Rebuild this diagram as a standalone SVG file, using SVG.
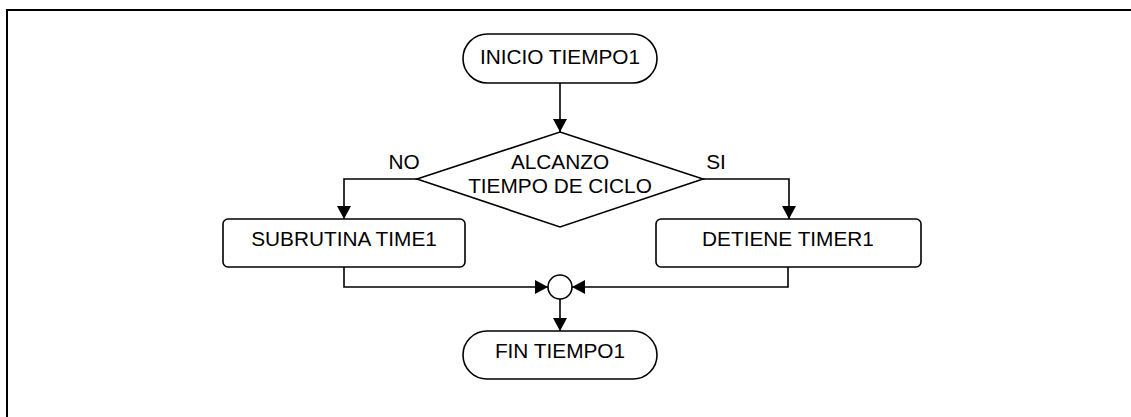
<svg xmlns="http://www.w3.org/2000/svg" width="1131" height="417" viewBox="0 0 1131 417">
  <style>
    .shape { fill: #ffffff; stroke: #000000; stroke-width: 1.6; }
    .conn { fill: none; stroke: #000000; stroke-width: 1.6; marker-end: url(#arrow); }
    .lbl { font-family: "Liberation Sans", Arial, sans-serif; font-size: 20.8px; fill: #000000; text-anchor: middle; }
    .frame { fill: none; stroke: #000000; stroke-width: 2; }
  </style>
  <defs>
    <marker id="arrow" markerUnits="userSpaceOnUse" markerWidth="14" markerHeight="14" viewBox="0 0 14 14" refX="13" refY="7" orient="auto">
      <path d="M0,0 L13,7 L0,14 Z" fill="#000000"/>
    </marker>
  </defs>
  <rect width="1131" height="417" fill="#ffffff"/>
  <path class="frame" d="M7,417 L7,10 L1131,10"/>

  <g id="connectors">
    <path class="conn" d="M560,83 L560,132"/>
    <path class="conn" d="M417,179 L344,179 L344,219"/>
    <path class="conn" d="M703,179 L789,179 L789,219"/>
    <path class="conn" d="M344,267 L344,287 L548,287"/>
    <path class="conn" d="M788,267 L788,287 L572,287"/>
    <path class="conn" d="M560,299 L560,331"/>
  </g>

  <g id="inicio">
    <rect class="shape" x="463" y="34" width="194" height="49" rx="24.5" ry="24.5"/>
    <text class="lbl" x="560" y="64">INICIO TIEMPO1</text>
  </g>

  <g id="decision">
    <polygon class="shape" points="560,132 703,179 560,227 417,179"/>
    <text class="lbl" x="560" y="169">ALCANZO</text>
    <text class="lbl" x="560" y="193">TIEMPO DE CICLO</text>
    <text class="lbl" x="404" y="169">NO</text>
    <text class="lbl" x="716" y="169">SI</text>
  </g>

  <g id="subrutina">
    <rect class="shape" x="223" y="219" width="242" height="48" rx="5" ry="5"/>
    <text class="lbl" x="344" y="246">SUBRUTINA TIME1</text>
  </g>

  <g id="detiene">
    <rect class="shape" x="656" y="219" width="265" height="48" rx="5" ry="5"/>
    <text class="lbl" x="788" y="246">DETIENE TIMER1</text>
  </g>

  <g id="union">
    <circle class="shape" cx="560" cy="287" r="12"/>
  </g>

  <g id="fin">
    <rect class="shape" x="463" y="331" width="194" height="48" rx="24" ry="24"/>
    <text class="lbl" x="560" y="358">FIN TIEMPO1</text>
  </g>
</svg>
